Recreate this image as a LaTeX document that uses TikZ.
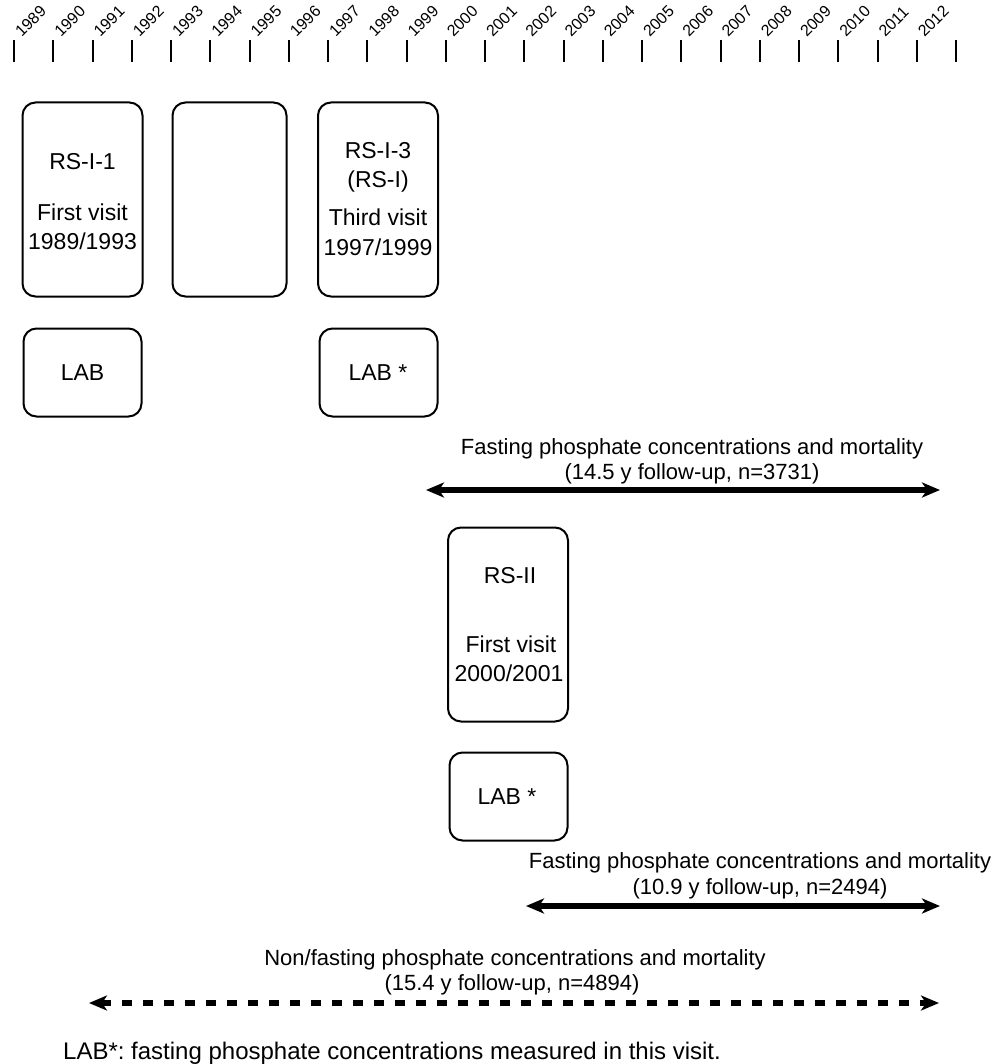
\documentclass[tikz,border=0pt]{standalone}
\usepackage{fontspec}
\setmainfont{Liberation Sans}
\usetikzlibrary{arrows.meta}
\frenchspacing
\begin{document}
\begin{tikzpicture}[x=1pt,y=-1pt,
  box/.style={draw, line width=2pt, rounded corners=13pt, inner sep=0pt},
  visit/.style={box, minimum width=120pt, minimum height=194pt},
  labbox/.style={box, minimum width=118pt, minimum height=88pt},
  btxt/.style={font=\fontsize{23}{28}\selectfont, anchor=base, inner sep=0pt},
  atxt/.style={font=\fontsize{22}{26}\selectfont, anchor=base, inner sep=0pt},
  yr/.style={font=\fontsize{16}{19}\selectfont, anchor=south west, rotate=45, inner sep=0pt},
  tickline/.style={line width=2pt},
  bigarrow/.style={line width=5.5pt, {Stealth[length=18pt,width=15pt,inset=5pt]}-{Stealth[length=18pt,width=15pt,inset=5pt]}},
]
\useasboundingbox (0,0) rectangle (1002,1064);

% timeline ticks and year labels
\foreach \i in {0,...,24} {
  \draw[tickline] ({14+39.25*\i},40) -- ({14+39.25*\i},62);
}
\foreach \y [count=\i from 0] in {1989,...,2012} {
  \node[yr] (yr\y) at ({22+39.25*\i},38) {\y};
}

% visit boxes
\node[visit] (v1) at (82.5,199.5) {};
\node[visit, minimum width=114pt] (v2) at (229.5,199.5) {};
\node[visit] (v3) at (378,199.5) {};
\node[visit] (v4) at (508,624.5) {};

\node[btxt] (v1a) at (82.5,170) {RS-I-1};
\node[btxt] (v1b) at (82.5,221) {First visit};
\node[btxt] (v1c) at (82.5,250) {1989/1993};

\node[btxt] (v3a) at (378,159) {RS-I-3};
\node[btxt] (v3b) at (378,188) {(RS-I)};
\node[btxt] (v3c) at (378,226) {Third visit};
\node[btxt] (v3d) at (378,256) {1997/1999};

\node[btxt] (v4a) at (510,583) {RS-II};
\node[btxt] (v4b) at (511,652) {First visit};
\node[btxt] (v4c) at (509,681) {2000/2001};

% lab boxes
\node[labbox] (l1) at (82.5,372.5) {};
\node[labbox] (l3) at (378.5,372.5) {};
\node[labbox] (l4) at (508.5,796.5) {};
\node[btxt] (l1t) at (82.5,380) {LAB};
\node[btxt] (l3t) at (378,380) {LAB *};
\node[btxt] (l4t) at (507,804) {LAB *};

% arrow 1
\node[atxt] (a1t1) at (692,454) {Fasting phosphate concentrations and mortality};
\node[atxt] (a1t2) at (692,479) {(14.5 y follow-up, n=3731)};
\coordinate (a1l) at (426,490);
\coordinate (a1r) at (940,490);
\draw[bigarrow] (a1l) -- (a1r);

% arrow 2
\node[atxt] (a2t1) at (760,868) {Fasting phosphate concentrations and mortality};
\node[atxt] (a2t2) at (760,894) {(10.9 y follow-up, n=2494)};
\coordinate (a2l) at (526,906);
\coordinate (a2r) at (940,906);
\draw[bigarrow] (a2l) -- (a2r);

% arrow 3 (dashed)
\node[atxt] (a3t1) at (515,965) {Non/fasting phosphate concentrations and mortality};
\node[atxt] (a3t2) at (512,990) {(15.4 y follow-up, n=4894)};
\coordinate (a3l) at (89,1003);
\coordinate (a3r) at (939,1003);
\draw[bigarrow, dash pattern=on 10pt off 11pt] (a3l) -- (a3r);

% caption
\node[btxt, font=\fontsize{24}{28}\selectfont, anchor=base west] (cap) at (63,1059) {LAB*: fasting phosphate concentrations measured in this visit.};
\end{tikzpicture}
\end{document}
